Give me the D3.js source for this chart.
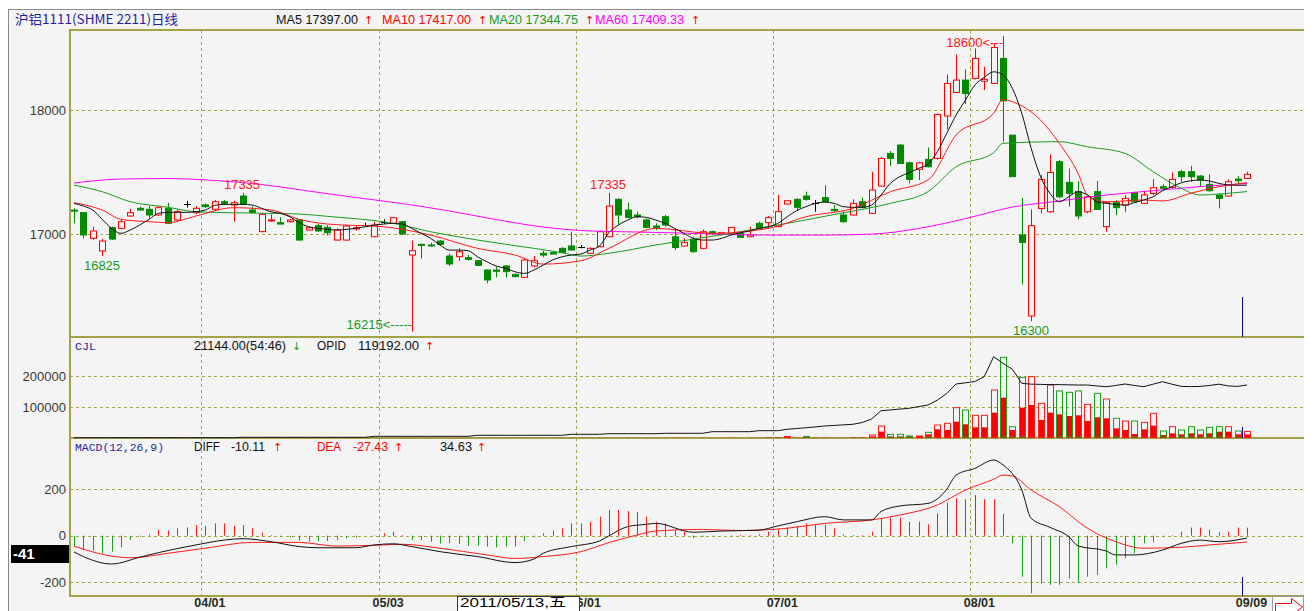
<!DOCTYPE html>
<html>
<head>
<meta charset="utf-8">
<script src="https://cdn.jsdelivr.net/npm/d3@7/dist/d3.min.js"></script>
<style>
  body { margin: 0; background: #ffffff; }
  svg text { font-family: "Liberation Sans", Arial, sans-serif; }
</style>
</head>
<body>
<svg id="chart" width="1314" height="611"></svg>
<script>
// ---- daily candles, 2011/03/14 .. 2011/09/09 (126 sessions) ----
const openP = [
  17195,17175,16968,16866,17054,17048,17148,17210,17202,17156,
  17210,17116,17242,17175,17237,17202,17263,17237,17309,17196,
  17022,17108,17094,17102,17116,17035,17070,17056,16954,16954,
  17043,17075,16981,17102,17089,17102,16833,16919,16914,16946,
  16825,16820,16812,16788,16712,16712,16745,16677,16653,16745,
  16847,16852,16887,16906,16900,16847,16900,16981,17282,17196,
  17156,17116,17067,17142,16980,16906,16960,16887,17021,17000,
  17003,17008,16981,17089,17094,17062,17245,17282,17309,17255,
  17296,17201,17156,17156,17263,17169,17389,17653,17720,17577,
  17524,17604,17612,17954,18144,18244,18257,18235,18217,18419,
  17800,16995,16341,17209,17182,17586,17419,17344,17182,17344,
  17062,17255,17236,17336,17250,17330,17384,17379,17505,17505,
  17470,17403,17317,17309,17446,17451
];
const highP = [
  17210,17180,17062,16962,17062,17121,17204,17223,17228,17228,
  17255,17202,17269,17228,17250,17277,17277,17271,17335,17223,
  17169,17161,17137,17124,17121,17062,17083,17075,17048,17075,
  17075,17094,17102,17121,17142,17108,16949,16925,16933,16952,
  16846,16887,16833,16793,16717,16739,16750,16685,16812,16825,
  16868,16858,16895,17021,16914,16895,17029,17335,17290,17255,
  17183,17129,17089,17156,17048,16968,16981,17040,17030,17021,
  17056,17013,17062,17102,17148,17317,17277,17290,17344,17277,
  17397,17236,17183,17282,17296,17505,17626,17672,17728,17586,
  17586,17701,17975,18289,18451,18330,18500,18351,18540,18600,
  17800,17295,17201,17478,17645,17599,17532,17430,17309,17430,
  17263,17277,17317,17344,17352,17445,17403,17499,17519,17553,
  17478,17484,17330,17443,17470,17505
];
const lowP = [
  17090,16968,16954,16825,16954,17040,17142,17191,17129,17148,
  17083,17108,17215,17164,17215,17196,17237,17102,17237,17169,
  17016,17102,17080,17096,16950,17030,17021,16990,16949,16949,
  17030,17062,16976,17083,17083,16998,16215,16806,16900,16914,
  16745,16785,16788,16745,16605,16653,16653,16653,16648,16734,
  16815,16841,16847,16868,16887,16841,16895,16976,17075,17129,
  17129,17048,17035,17062,16873,16900,16852,16879,17000,16990,
  16998,16970,16976,17040,17048,17056,17237,17191,17271,17183,
  17255,17183,17094,17151,17210,17164,17384,17551,17567,17411,
  17438,17540,17604,17846,18139,18051,18249,18163,18212,17747,
  17465,16596,16300,17169,17174,17290,17223,17121,17169,17196,
  17021,17156,17182,17255,17245,17317,17357,17371,17424,17424,
  17384,17344,17209,17303,17411,17446
];
const closeP = [
  17190,16995,17027,16946,16962,17102,17175,17196,17156,17215,
  17089,17183,17242,17210,17223,17263,17250,17255,17242,17177,
  17161,17116,17083,17116,16954,17054,17027,17013,17035,17067,
  17054,17075,17075,17102,17134,17003,16868,16914,16906,16919,
  16761,16860,16798,16750,16632,16702,16699,16659,16793,16788,
  16833,16841,16852,16874,16900,16887,17021,17228,17156,17137,
  17142,17056,17056,17075,16894,16933,16860,17021,17008,17013,
  17056,16976,16995,17048,17134,17183,17271,17218,17282,17255,
  17263,17191,17102,17250,17218,17357,17612,17612,17572,17443,
  17577,17545,17967,18217,18244,18136,18419,18250,18507,18077,
  17465,16935,17070,17443,17499,17303,17330,17148,17303,17201,
  17255,17215,17290,17263,17317,17376,17371,17443,17465,17465,
  17438,17352,17290,17424,17432,17484
];

// moving averages
const ma5 = [
  17250,17228,17196,17121,17048,17008,17035,17075,17121,17169,
  17177,17177,17177,17183,17196,17234,17242,17242,17242,17236,
  17210,17182,17169,17142,17094,17061,17048,17040,17035,17040,
  17048,17061,17075,17083,17089,17083,17048,17008,16968,16914,
  16873,16873,16868,16819,16779,16744,16726,16698,16685,16712,
  16752,16793,16819,16833,16841,16873,16906,17013,17075,17115,
  17142,17137,17115,17088,17048,17008,16967,16954,16954,16967,
  16994,17013,17027,17048,17062,17088,17142,17191,17223,17250,
  17260,17250,17223,17218,17218,17236,17317,17411,17465,17497,
  17532,17567,17666,17814,17962,18083,18204,18266,18311,18285,
  18177,17976,17694,17465,17331,17263,17303,17344,17317,17263,
  17250,17242,17236,17255,17277,17303,17352,17384,17416,17432,
  17438,17430,17411,17398,17395,17397
];
const ma10 = [[0,17255],[3,17196],[5,17121],[8,17102],[10,17094],[13,17148],[17,17215],[21,17196],[24,17121],[27,17083],
  [33,17061],[38,16994],[43,16887],[47,16833],[50,16760],[54,16787],[57,16887],[62,17048],[68,17008],[74,17048],
  [78,17142],[83,17210],[87,17344],[91,17438],[94,17801],[98,17976],[99,18089],[100,18069],[103,17922],[105,17734],
  [107,17492],[108,17317],[110,17263],[114,17277],[116,17269],[119,17331],[122,17384],[125,17417]];
const ma20 = [[0,17397],[3,17344],[6,17263],[10,17218],[13,17182],[17,17174],[21,17169],[24,17164],[27,17145],[34,17089],
  [38,17021],[43,16954],[49,16887],[52,16852],[54,16825],[57,16847],[62,16914],[70,17008],[74,17061],[82,17174],
  [87,17250],[91,17344],[94,17545],[98,17658],[99,17734],[105,17747],[108,17706],[112,17653],[115,17505],[118,17371],
  [120,17317],[122,17325],[125,17344.75]];
const ma60 = [[0,17414],[5,17446],[10,17450],[15,17434],[20,17402],[25,17349],[30,17297],[35,17248],[40,17188],[45,17119],
  [50,17059],[55,17027],[60,17019],[65,17010],[70,16998],[75,16994],[80,16994],[85,17002],[90,17047],[95,17127],
  [100,17220],[105,17269],[110,17317],[115,17352],[120,17385],[125,17409.33]];

// volume (CJL), buy part, open interest (OPID)
const vol = [
  900,1100,800,1200,700,1000,900,800,1100,900,
  800,1000,700,900,1200,800,1000,900,1100,800,
  900,700,1000,800,1200,900,800,1000,700,900,
  1100,800,900,1000,700,1200,900,800,1000,900,
  800,1100,700,900,1000,800,1200,900,700,1000,
  900,800,1100,700,1000,900,1200,800,1000,900,
  1100,800,900,1000,1200,900,800,1100,1000,900,
  1200,800,1000,1100,3000,3000,5000,2000,5000,2000,
  2000,1200,1200,3000,3000,9700,38700,11800,11800,6500,
  6500,18300,41900,47300,97800,90300,73100,73100,154800,260300,
  36500,195700,197900,111800,171000,151600,147300,151600,108500,144100,
  125800,63400,54800,54800,50500,79600,22600,36500,25800,36500,
  25800,34400,36500,36500,22600,21144
];
const volBuy = [
  500,600,400,600,400,500,500,400,600,500,
  400,500,400,500,600,400,500,500,600,400,
  500,400,500,400,600,500,400,500,400,500,
  600,400,500,500,400,600,500,400,500,500,
  400,600,400,500,500,400,600,500,400,500,
  500,400,600,400,500,500,600,400,500,500,
  600,400,500,500,600,500,400,600,500,500,
  600,400,500,600,1500,1600,2600,1000,2400,1000,
  1000,600,600,1500,1500,4300,20400,4300,4300,3000,
  4300,11800,27900,25800,52700,44100,34400,34400,81700,130100,
  25800,97800,106400,58100,81700,76300,71000,73100,54800,66700,
  63400,31100,25800,12900,27900,39800,9700,15000,11800,15000,
  11800,15000,20400,20400,11800,11418
];
const opid = [
  700,700,700,700,700,700,700,700,700,700,
  700,700,700,700,700,700,700,700,1600,1600,
  1600,1600,1600,1600,1600,1600,1600,1600,1600,1600,
  1600,1600,3800,3800,3800,3800,3800,3800,3800,3800,
  3800,3800,3800,6100,6100,6100,6100,6100,6100,6100,
  6100,6100,6100,8300,8300,8300,8300,9700,9700,9700,
  9700,9700,9700,10600,10600,10600,10600,10600,14200,14200,
  14200,14200,14200,16400,16400,16400,19600,21300,23100,25000,
  27000,28300,29500,30800,34800,42700,61400,63000,65000,66800,
  70500,74200,85000,100000,121400,124000,127000,137800,182700,167900,
  154400,122900,121000,120500,120000,120000,119500,119100,119100,117000,
  115300,118000,121400,118000,115300,121000,126500,121000,116000,115500,
  116000,118000,121000,117000,116000,119192
];

// MACD(12,26,9)
const macdBar = [
  -47,-62,-65,-76,-69,-50,-19,-4,6,25,
  22,32,36,46,42,53,53,42,46,32,
  13,3,-4,-7,-21,-26,-23,-23,-19,-11,
  -8,-1,2,10,17,3,-19,-19,-26,-33,
  -33,-36,-44,-44,-47,-50,-47,-47,-23,-7,
  10,22,32,53,53,60,82,111,111,106,
  103,82,60,53,22,17,-11,-4,-1,1,
  3,4,3,6,17,27,36,42,53,46,
  46,32,6,3,3,17,75,78,79,60,
  60,49,96,142,161,157,175,157,157,94,
  -33,-177,-248,-205,-212,-212,-184,-205,-177,-169,
  -141,-126,-97,-76,-33,-29,-4,3,17,35,
  35,25,15,17,35,34.63
];
const diffLine = [[0,-70],[1,-90],[4,-122],[7,-93],[9,-73],[13,-40],[16,-19],[18,-13],[21,-26],[24,-47],
  [26,-52],[30,-52],[32,-40],[34,-35],[36,-47],[39,-69],[43,-90],[47,-116],[49,-101],[50,-76],
  [53,-47],[56,-23],[57,-1],[59,39],[61,49],[62,53],[66,15],[69,20],[73,24],[75,42],
  [77,60],[80,82],[82,68],[85,68],[86,104],[88,128],[91,139],[93,200],[94,261],[96,290],
  [98,326],[99,305],[101,197],[102,75],[104,36],[106,-4],[107,-44],[110,-66],[111,-83],[113,-83],
  [116,-62],[118,-33],[120,-19],[122,-26],[125,-10.11]];
const deaLine = [[0,-45],[4,-88],[6,-95],[10,-76],[14,-54],[19,-29],[24,-29],[28,-45],[33,-40],[35,-37],
  [39,-54],[44,-83],[47,-98],[50,-90],[54,-69],[57,-30],[60,3],[62,20],[67,27],[71,22],
  [76,32],[80,53],[85,68],[88,89],[92,132],[95,197],[98,243],[99,261],[100,257],[102,197],
  [105,125],[108,32],[111,-26],[114,-54],[118,-50],[121,-40],[125,-27.43]];

// axis ticks and labels
const priceTicks = [17000, 18000];
const volTicks = [100000, 200000];
const macdTicks = [-200, 0, 200];
const monthIdx = [14, 33, 54, 75, 96, 125];
const monthLabels = ["04/01", "05/03", "06/01", "07/01", "08/01", "09/09"];
const peakNotes = [
  { i: 3, v: 16825, text: "16825", color: "#1a9a1a", pos: "below" },
  { i: 18, v: 17335, text: "17335", color: "#ff2020", pos: "above" },
  { i: 36, v: 16215, text: "16215<-----", color: "#1a9a1a", pos: "leftLow" },
  { i: 57, v: 17335, text: "17335", color: "#ff2020", pos: "above" },
  { i: 99, v: 18600, text: "18600<---", color: "#ff2020", pos: "leftHigh" },
  { i: 102, v: 16300, text: "16300", color: "#1a9a1a", pos: "below" }
];

const N = closeP.length;
const svg = d3.select("#chart");
const gridColor = "#a4a44c";
const frameColor = "#a3a345";
const L = 70, R = 1304;

// backdrop
svg.append("rect").attr("x", 8).attr("y", 9).attr("width", R - 8).attr("height", 611 - 9).attr("fill", "#f4f4f4");
svg.append("line").attr("x1", 8).attr("x2", R).attr("y1", 9.5).attr("y2", 9.5).attr("stroke", "#8a8a8a");
svg.append("line").attr("x1", 8.5).attr("x2", 8.5).attr("y1", 9).attr("y2", 611).attr("stroke", "#8a8a8a");

const x = d3.scaleLinear().domain([0, N - 1]).range([74, 1247]);
const yP = d3.scaleLinear().domain([16172, 18648]).range([337, 30]);
const yV = d3.scaleLinear().domain([0, 325800]).range([438, 337]);
const yO = d3.scaleLinear().domain([0, 227000]).range([438, 337]);
const yM = d3.scaleLinear().domain([-260, 421]).range([596, 438]);
const px = i => Math.round(x(i));

// grid
function hGrid(scale, ticks) {
  svg.append("g").selectAll("line").data(ticks).join("line")
    .attr("x1", L).attr("x2", R)
    .attr("y1", d => Math.round(scale(d)) + 0.5).attr("y2", d => Math.round(scale(d)) + 0.5)
    .attr("stroke", gridColor).attr("stroke-dasharray", "3,3");
}
hGrid(yP, priceTicks);
hGrid(yV, volTicks);
hGrid(yM, macdTicks);
svg.append("g").selectAll("line").data(monthIdx.slice(0, 5)).join("line")
  .attr("x1", d => Math.round(x(d - 0.5)) + 0.5).attr("x2", d => Math.round(x(d - 0.5)) + 0.5)
  .attr("y1", 30).attr("y2", 596)
  .attr("stroke", gridColor).attr("stroke-dasharray", "3,3");

// frames
[30, 337, 438, 596].forEach(y => {
  svg.append("line").attr("x1", L - 1).attr("x2", R).attr("y1", y).attr("y2", y)
    .attr("stroke", frameColor).attr("stroke-width", 2);
});
svg.append("line").attr("x1", L).attr("x2", L).attr("y1", 29).attr("y2", 597)
  .attr("stroke", frameColor).attr("stroke-width", 2);

// left axes
function leftAxis(scale, ticks) {
  const g = svg.append("g").attr("transform", `translate(${L - 3},0)`)
    .call(d3.axisLeft(scale).tickValues(ticks).tickSize(0).tickPadding(1).tickFormat(d => String(d)));
  g.select(".domain").remove();
  g.selectAll("text").attr("font-size", 13).attr("fill", "#3a3a2a")
    .style("font-family", "'Liberation Sans', Arial, sans-serif");
}
leftAxis(yP, priceTicks);
leftAxis(yV, volTicks);
leftAxis(yM, macdTicks);

// candles
const candles = d3.range(N).map(i => ({ i, o: openP[i], h: highP[i], l: lowP[i], c: closeP[i] }));
const candleColor = d => d.c === d.o ? "#000000" : (d.c > d.o ? "#ff0000" : "#008a00");
const cg = svg.append("g");
cg.selectAll("line.wick").data(candles).join("line").attr("class", "wick")
  .attr("x1", d => px(d.i) + 0.5).attr("x2", d => px(d.i) + 0.5)
  .attr("y1", d => yP(d.h)).attr("y2", d => yP(d.l))
  .attr("stroke", candleColor);
cg.selectAll("rect.body").data(candles.filter(d => d.c !== d.o)).join("rect").attr("class", "body")
  .attr("x", d => px(d.i) - 2.5).attr("width", 6)
  .attr("y", d => yP(Math.max(d.o, d.c)))
  .attr("height", d => Math.max(1, yP(Math.min(d.o, d.c)) - yP(Math.max(d.o, d.c))))
  .attr("fill", d => d.c > d.o ? "#f4f4f4" : "#008a00")
  .attr("stroke", candleColor);
cg.selectAll("line.doji").data(candles.filter(d => d.c === d.o)).join("line").attr("class", "doji")
  .attr("x1", d => px(d.i) - 3).attr("x2", d => px(d.i) + 4)
  .attr("y1", d => Math.round(yP(d.c)) + 0.5).attr("y2", d => Math.round(yP(d.c)) + 0.5)
  .attr("stroke", "#000");

// moving averages
const lineIdx = d3.line().x(d => x(d[0])).y(d => yP(d[1])).curve(d3.curveMonotoneX);
const maLines = [
  { pts: ma60, color: "#ff00ff" },
  { pts: ma20, color: "#1c9a1c" },
  { pts: ma10, color: "#ff1a1a" },
  { pts: ma5.map((v, i) => [i, v]), color: "#111111" }
];
maLines.forEach(m => {
  svg.append("path").attr("d", lineIdx(m.pts)).attr("fill", "none")
    .attr("stroke", m.color).attr("stroke-width", 1);
});

// high / low notes
peakNotes.forEach(n => {
  const t = svg.append("text").attr("font-size", 13).attr("fill", n.color).text(n.text);
  if (n.pos === "below") t.attr("x", px(n.i)).attr("y", yP(n.v) + 14).attr("text-anchor", "middle");
  if (n.pos === "above") t.attr("x", px(n.i) - 1).attr("y", yP(n.v) - 4).attr("text-anchor", "middle");
  if (n.pos === "leftLow") t.attr("x", px(n.i)).attr("y", yP(n.v) - 3).attr("text-anchor", "end");
  if (n.pos === "leftHigh") t.attr("x", px(n.i)).attr("y", yP(n.v) + 11).attr("text-anchor", "end");
});

// volume bars
const vg = svg.append("g");
const volColor = i => closeP[i] >= openP[i] ? "#ff1a1a" : "#1aa01a";
vg.selectAll("rect.buy").data(d3.range(N)).join("rect").attr("class", "buy")
  .attr("x", i => px(i) - 3).attr("width", 7)
  .attr("y", i => yV(volBuy[i])).attr("height", i => 438 - yV(volBuy[i]))
  .attr("fill", "#ff0000");
vg.selectAll("rect.vol").data(d3.range(N)).join("rect").attr("class", "vol")
  .attr("x", i => px(i) - 2.5).attr("width", 6)
  .attr("y", i => yV(vol[i])).attr("height", i => Math.max(0, 437 - yV(vol[i])))
  .attr("fill", "none").attr("stroke", volColor);
svg.append("path")
  .attr("d", d3.line().x((d, i) => x(i)).y(d => yO(d))(opid))
  .attr("fill", "none").attr("stroke", "#111").attr("stroke-width", 1);

// MACD
svg.append("g").selectAll("line").data(d3.range(N)).join("line")
  .attr("x1", i => px(i) + 0.5).attr("x2", i => px(i) + 0.5)
  .attr("y1", yM(0)).attr("y2", i => yM(macdBar[i]))
  .attr("stroke", i => macdBar[i] >= 0 ? "#ff1a1a" : "#1aa01a");
const lineM = d3.line().x(d => x(d[0])).y(d => yM(d[1])).curve(d3.curveMonotoneX);
svg.append("path").attr("d", lineM(deaLine)).attr("fill", "none").attr("stroke", "#ff1a1a");
svg.append("path").attr("d", lineM(diffLine)).attr("fill", "none").attr("stroke", "#111");

// cursor marker
[[297, 337], [427, 438], [577, 596]].forEach(s => {
  svg.append("line").attr("x1", 1242.5).attr("x2", 1242.5).attr("y1", s[0]).attr("y2", s[1])
    .attr("stroke", "#0a0a9a");
});

// headers
function label(xp, y, text, color, size, width, family) {
  const t = svg.append("text").attr("x", xp).attr("y", y).attr("fill", color)
    .attr("font-size", size).text(text);
  if (width) t.attr("textLength", width).attr("lengthAdjust", "spacingAndGlyphs");
  if (family) t.style("font-family", family);
  return t;
}
const upArrow = (xp, y, color, down) => label(xp, y, down ? "↓" : "↑", color, 11, null, "'DejaVu Sans', sans-serif");
const last = a => a[a.length - 1];
label(15, 24, "沪铝1111(SHME 2211)日线", "#1e1e9c", 13, 163, "'Noto Sans CJK SC', sans-serif");
label(276, 24, `MA5 ${last(ma5).toFixed(2)}`, "#111", 12.5, 82);
upArrow(364, 24, "#ff0000");
label(382, 24, `MA10 ${last(ma10)[1].toFixed(2)}`, "#ff0000", 12.5, 89);
upArrow(478, 24, "#ff0000");
label(489, 24, `MA20 ${last(ma20)[1].toFixed(2)}`, "#1c9a1c", 12.5, 89);
upArrow(585, 24, "#ff0000");
label(595, 24, `MA60 ${last(ma60)[1].toFixed(2)}`, "#ff00ff", 12.5, 89);
upArrow(691, 24, "#ff0000");

label(75, 350, "CJL", "#1e1e9c", 11, 21, "'Liberation Mono', monospace");
label(194, 350, `${last(vol).toFixed(2)}(54:46)`, "#111", 12.5, 92);
upArrow(292, 350, "#1aa01a", true);
label(317, 350, "OPID", "#111", 12.5, 29);
label(358, 350, `${last(opid).toFixed(2)}`, "#111", 12.5, 61);
upArrow(425, 350, "#ff0000");

label(75, 451, "MACD(12,26,9)", "#1e1e9c", 11, 89, "'Liberation Mono', monospace");
label(194, 451, "DIFF", "#111", 12.5, 26);
label(231, 451, last(diffLine)[1].toFixed(2), "#111", 12.5, 34);
upArrow(273, 451, "#ff0000");
label(317, 451, "DEA", "#ff0000", 12.5, 24);
label(353, 451, last(deaLine)[1].toFixed(2), "#ff0000", 12.5, 35);
upArrow(394, 451, "#ff0000");
label(440, 451, last(macdBar).toFixed(2), "#111", 12.5, 32);
upArrow(477, 451, "#ff0000");

// date axis
const dg = svg.append("g").attr("transform", "translate(4,596)")
  .call(d3.axisBottom(x).tickValues(monthIdx).tickSize(0).tickPadding(2)
    .tickFormat((d, k) => monthLabels[k]));
dg.select(".domain").remove();
dg.selectAll("text").attr("font-size", 12.5).attr("font-weight", "bold").attr("fill", "#2a2a1a")
  .style("font-family", "'Liberation Sans', Arial, sans-serif");

// cursor value box and date tip
svg.append("rect").attr("x", 11).attr("y", 545).attr("width", 58).attr("height", 18).attr("fill", "#000");
label(13, 559, "-41", "#fff", 15, null).attr("font-weight", "bold");
svg.append("rect").attr("x", 457.5).attr("y", 596.5).attr("width", 122).attr("height", 20)
  .attr("fill", "#fff").attr("stroke", "#333");
label(460, 607, "2011/05/13,五", "#000", 12.5, 106, "'Liberation Sans', 'Noto Sans CJK SC', sans-serif");

// scroll arrow
svg.append("rect").attr("x", 1272.5).attr("y", 596.5).attr("width", 31).attr("height", 16)
  .attr("fill", "#fff").attr("stroke", "#999");
svg.append("path").attr("d", "M1275.5,603.5 H1291.5 V598.5 L1302.5,607 L1291.5,615.5 V611.5 H1275.5 Z")
  .attr("fill", "#fff").attr("stroke", "#ff0000");
</script>
</body>
</html>
